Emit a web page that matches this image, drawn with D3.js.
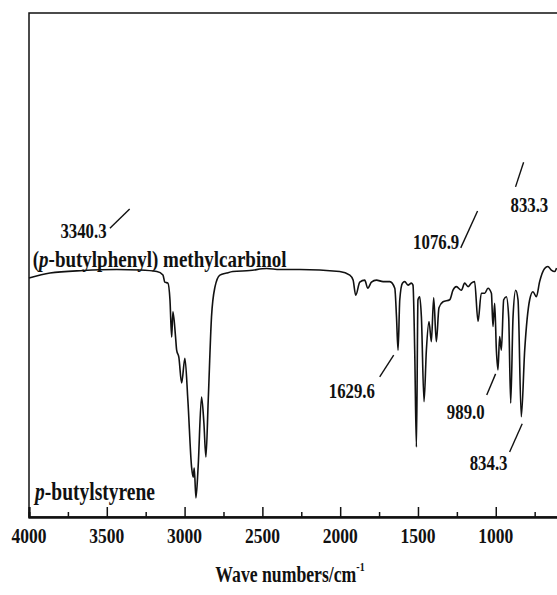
<!DOCTYPE html>
<html>
<head>
<meta charset="utf-8">
<script src="https://cdn.jsdelivr.net/npm/d3@7"></script>
<style>
  body { margin: 0; background: #fff; }
  svg { display: block; }
  text { font-family: "Liberation Serif", "Times New Roman", serif; font-weight: bold; fill: #111; }
</style>
</head>
<body>
<script>
// p-butylstyrene spectrum (wavenumber cm-1, transmittance a.u.)
var wavenumbers = [4000,3865,3653,3435,3287,3178,3139,3127,3107,3094,3083,3075,3058,3051,3037,3019,2998,2979,2955,2945,2938,2927,2913,2891,2876,2863,2848,2827,2805,2773,2730,2690,2581,2473,2388,2259,2003,1938,1917,1900,1874,1842,1823,1799,1767,1724,1681,1649,1638,1628,1617,1600,1585,1564,1542,1532,1521,1510,1500,1489,1478,1461,1446,1429,1414,1399,1382,1365,1339,1296,1275,1253,1221,1200,1178,1157,1136,1114,1093,1071,1050,1028,1018,1007,996,986,975,964,949,932,917,904,889,872,857,836,814,782,761,739,718,686,665,643,622,609];
var transmittance = [47.4,48.4,48.9,49.1,49.0,48.7,48.0,46.6,46.4,43.1,35.7,40.7,35.7,33.1,31.7,26.6,31.5,23.2,9.9,7.9,9.7,3.8,9.9,23.8,18.7,11.9,23.2,39.7,45.6,48.0,48.4,48.7,48.9,49.3,49.1,49.1,48.7,48.0,47.0,44.0,46.6,47.0,45.4,46.6,47.0,46.7,46.7,45.4,39.7,33.1,43.1,46.4,46.7,46.0,46.4,46.0,33.1,13.9,43.1,43.7,39.7,22.9,33.1,38.8,34.8,43.5,34.8,41.5,42.7,43.1,45.0,45.7,45.0,46.4,45.7,46.4,46.7,38.8,44.4,44.4,45.4,44.4,37.8,42.4,33.1,29.2,35.8,33.1,43.1,43.7,39.7,22.6,39.7,45.0,43.1,19.9,33.1,43.1,44.7,43.7,46.7,49.3,49.7,49.0,48.7,49.4];

var majorTicks = [4000,3500,3000,2500,2000,1500,1000];
var minorTicks = [3750,3250,2750,2250,1750,1250,750];

// peak labels: text anchor and leader line ends, in (wavenumber, transmittance)
var peakLabels = ["3340.3","1076.9","833.3","1629.6","989.0","834.3"];
var peakText   = [[3650,55.4],[1383,53.2],[784,60.5],[1925,23.6],[1193,19.4],[1046,9.3]];
var peakLines  = [[[3480,57.3],[3353,61.1]],[[1225,53.4],[1117,60.7]],[[873,65.5],[821,70.4]],
                  [[1746,27.8],[1656,32.1]],[[1058,24.2],[1001,28.4]],[[911,12.9],[830,18.5]]];

var data = wavenumbers.map(function(w, i) { return [w, transmittance[i]]; });

var margin = {top: 13, right: -1, bottom: 78, left: 29}
, width = 557 - margin.left - margin.right
, height = 595 - margin.top - margin.bottom;

var x = d3.scaleLinear().domain([4000, 600]).range([0, width]);
var y = d3.scaleLinear().domain([0, 100]).range([height, 0]);

var svg = d3.select('body').append('svg')
    .attr('width', 557)
    .attr('height', 595);

var main = svg.append('g')
    .attr('transform', 'translate(' + margin.left + ',' + margin.top + ')');

// text is a bit tall and narrow in the original
function label(g, px, py, size, anchor) {
  return g.append('text')
    .attr('transform', 'translate(' + px + ',' + py + ') scale(1,1.25)')
    .attr('text-anchor', anchor)
    .style('font-size', size + 'px');
}

// frame
main.append('rect')
    .attr('width', width).attr('height', height)
    .attr('fill', 'none').attr('stroke', '#111').attr('stroke-width', 1.5);

var axis = main.append('g').attr('transform', 'translate(0,' + height + ')');
axis.call(d3.axisBottom(x).tickValues(majorTicks).tickSize(-10).tickFormat(''));
axis.append('g').call(d3.axisBottom(x).tickValues(minorTicks).tickSize(-5).tickFormat(''));
axis.selectAll('.domain').attr('stroke', '#111').attr('stroke-width', 2);
axis.selectAll('.tick line').attr('stroke', '#111').attr('stroke-width', 1.5);

majorTicks.forEach(function(t) {
  label(main, x(t), height + 26, 17.5, 'middle').text(t);
});

var title = label(main, 261, height + 65, 17.7, 'middle');
title.append('tspan').text('Wave numbers/cm');
title.append('tspan').attr('dy', -9).style('font-size', '10px').text('-1');

// spectrum
var line = d3.line()
    .x(function(d) { return x(d[0]); })
    .y(function(d) { return y(d[1]); })
    .curve(d3.curveMonotoneX);

main.append('path')
    .datum(data)
    .attr('d', line)
    .attr('fill', 'none')
    .attr('stroke', '#111')
    .attr('stroke-width', 1.6);

// sample names
var t1 = label(main, x(3976), y(49.7), 19, 'start');
t1.append('tspan').text('(');
t1.append('tspan').style('font-style', 'italic').text('p');
t1.append('tspan').text('-butylphenyl) methylcarbinol');

var t2 = label(main, x(3961), y(3.4), 19.5, 'start');
t2.append('tspan').style('font-style', 'italic').text('p');
t2.append('tspan').text('-butylstyrene');

// peak annotations
peakLabels.forEach(function(s, i) {
  label(main, x(peakText[i][0]), y(peakText[i][1]), 16.8, 'middle').text(s);
  main.append('line')
      .attr('x1', x(peakLines[i][0][0])).attr('y1', y(peakLines[i][0][1]))
      .attr('x2', x(peakLines[i][1][0])).attr('y2', y(peakLines[i][1][1]))
      .attr('stroke', '#111').attr('stroke-width', 1.4);
});
</script>
</body>
</html>
